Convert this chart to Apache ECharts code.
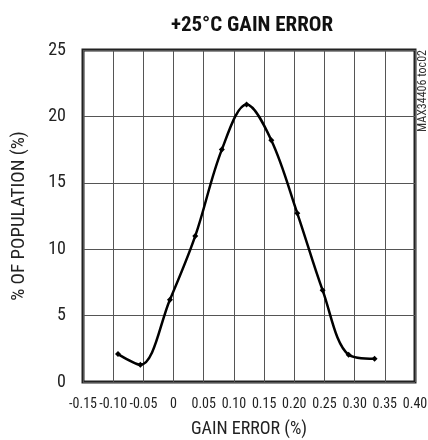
<!DOCTYPE html>
<html><head><meta charset="utf-8">
<script src="https://cdn.jsdelivr.net/npm/echarts@6/dist/echarts.min.js"></script>
<style>html,body{margin:0;padding:0;background:#fff}#c{width:428px;height:440px}</style>
</head><body><div id="c"></div>
<script>
const gainError = [-0.092, -0.055, -0.006, 0.036, 0.080, 0.121, 0.162, 0.205, 0.247, 0.290, 0.333];
const population = [2.1, 1.3, 6.2, 11.0, 17.5, 20.9, 18.2, 12.7, 6.9, 2.05, 1.75];
const titleText = '+25°C GAIN ERROR';
const xName = 'GAIN ERROR (%)';
const yName = '% OF POPULATION (%)';
const tocText = 'MAX34406 toc02';
const FONT = '"Roboto Condensed", "DejaVu Sans Condensed", sans-serif';

const chart = echarts.init(document.getElementById('c'), null, {renderer: 'canvas'});
chart.setOption({
  animation: false,
  backgroundColor: '#fff',
  title: {text: titleText, left: 247, top: 10, textAlign: 'center',
    textStyle: {fontFamily: FONT, fontWeight: 'bold', fontSize: 21, color: '#111'}},
  grid: {left: 83, right: 13, top: 50, bottom: 58, show: true, borderColor: '#222', borderWidth: 3,
    backgroundColor: 'transparent', containLabel: false, outerBoundsMode: 'none'},
  graphic: [{type: 'text', left: 417, top: 50, rotation: Math.PI / 2,
    style: {text: tocText, fontFamily: FONT, fontSize: 12, fill: '#333'}}],
  xAxis: {type: 'value', min: -0.15, max: 0.40, interval: 0.05,
    name: xName, nameLocation: 'middle', nameGap: 38,
    nameTextStyle: {fontFamily: FONT, fontSize: 18, color: '#222'},
    axisLine: {show: false}, axisTick: {show: false},
    axisLabel: {fontFamily: FONT, fontSize: 14, color: '#222', margin: 15, hideOverlap: false,
      showMinLabel: true, showMaxLabel: true,
      formatter: v => Math.abs(v) < 1e-9 ? '0' : v.toFixed(2)},
    splitLine: {show: true, lineStyle: {color: '#555', width: 1}}},
  yAxis: {type: 'value', min: 0, max: 25, interval: 5,
    name: yName, nameLocation: 'middle', nameGap: 54,
    nameTextStyle: {fontFamily: FONT, fontSize: 19, color: '#222'},
    axisLine: {show: false}, axisTick: {show: false},
    axisLabel: {fontFamily: FONT, fontSize: 18, color: '#222', margin: 17},
    splitLine: {show: true, lineStyle: {color: '#555', width: 1}}},
  series: [{type: 'line', data: gainError.map((x, i) => [x, population[i]]),
    smooth: 0.35, symbol: 'diamond', symbolSize: 6,
    lineStyle: {color: '#000', width: 2.5}, itemStyle: {color: '#000'}}]
});
</script></body></html>
